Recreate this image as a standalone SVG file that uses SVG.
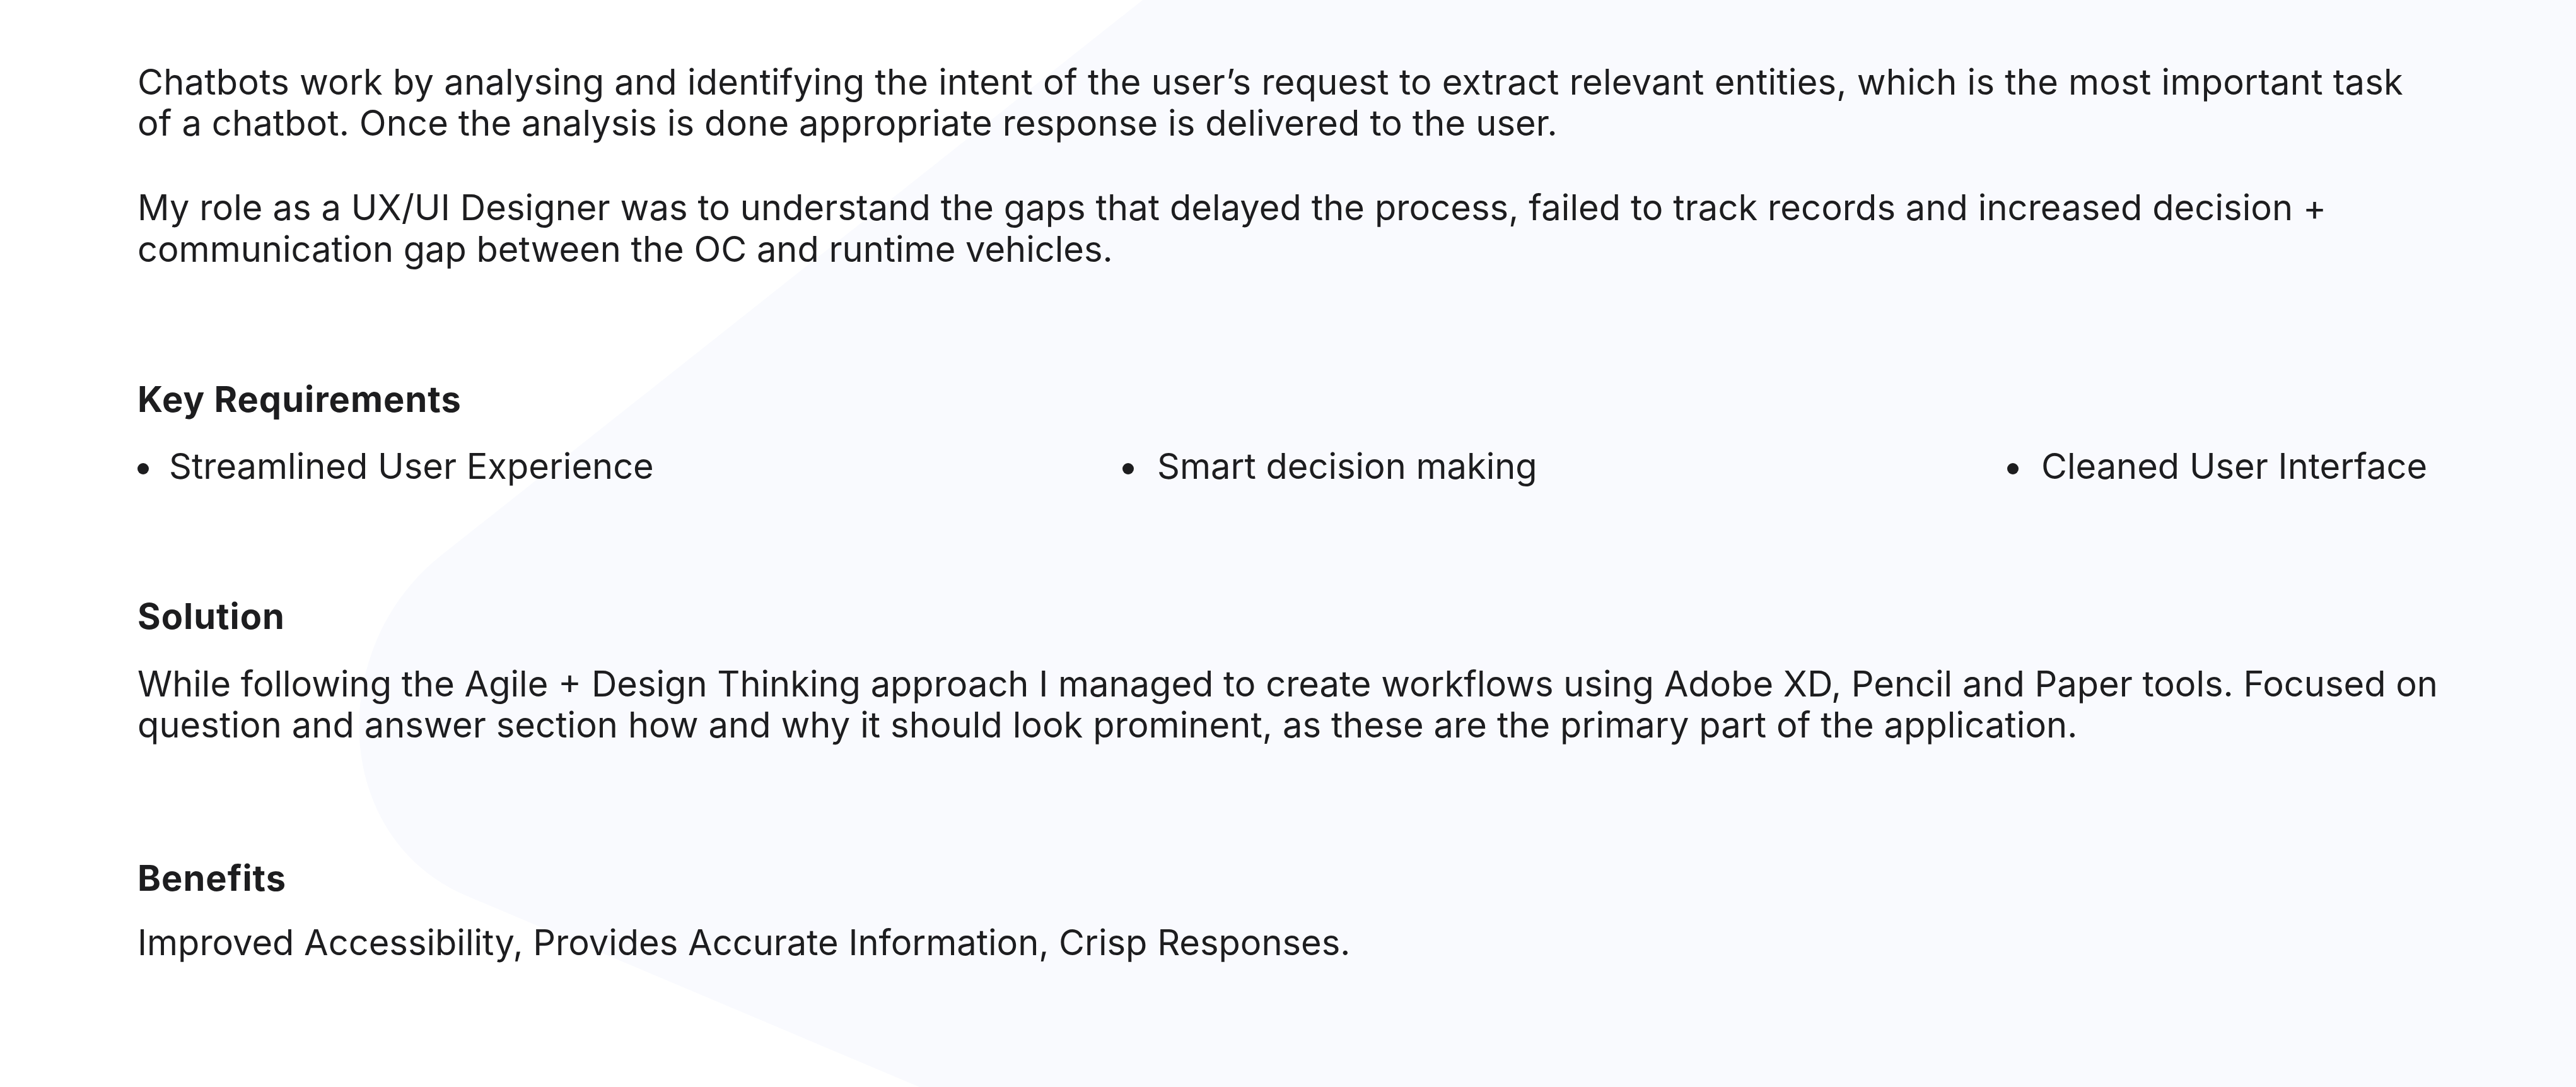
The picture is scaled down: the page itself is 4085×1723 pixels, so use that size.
<svg xmlns="http://www.w3.org/2000/svg" width="4085" height="1723" viewBox="0 0 4085 1723">
<style>
.t{font-family:Inter,"Noto Sans","Liberation Sans",sans-serif;font-size:56px;fill:#1d1d1f}
.h{font-family:Inter,"Noto Sans","Liberation Sans",sans-serif;font-size:56px;font-weight:700;letter-spacing:1px;fill:#1d1d1f}
</style>
<rect width="4085" height="1723" fill="#ffffff"/>
<path id="bg-shape" d="M1812 0 L4085 0 L4085 1723 L1458 1723 L740 1420 C525 1329 515 1026 700 880 Z" fill="#f9fafe"/>
<g id="intro">
<text class="t" x="218" y="150" letter-spacing="0.25">Chatbots work by analysing and identifying the intent of the user’s request to extract relevant entities, which is the most important task</text>
<text class="t" x="218" y="215" letter-spacing="0.12">of a chatbot. Once the analysis is done appropriate response is delivered to the user.</text>
</g>
<g id="role">
<text class="t" x="218" y="349" letter-spacing="0.08">My role as a UX/UI Designer was to understand the gaps that delayed the process, failed to track records and increased decision +</text>
<text class="t" x="218" y="415">communication gap between the OC and runtime vehicles.</text>
</g>
<g id="key-requirements">
<text class="h" x="218" y="653">Key Requirements</text>
<circle cx="227" cy="743" r="9" fill="#1d1d1f"/>
<text class="t" x="268" y="759">Streamlined User Experience</text>
<circle cx="1789" cy="743" r="9" fill="#1d1d1f"/>
<text class="t" x="1835" y="759">Smart decision making</text>
<circle cx="3192" cy="743" r="9" fill="#1d1d1f"/>
<text class="t" x="3237" y="759">Cleaned User Interface</text>
</g>
<g id="solution">
<text class="h" x="218" y="997">Solution</text>
<text class="t" x="218" y="1104">While following the Agile + Design Thinking approach I managed to create workflows using Adobe XD, Pencil and Paper tools. Focused on</text>
<text class="t" x="218" y="1169" letter-spacing="0.09">question and answer section how and why it should look prominent, as these are the primary part of the application.</text>
</g>
<g id="benefits">
<text class="h" x="218" y="1412">Benefits</text>
<text class="t" x="218" y="1514">Improved Accessibility, Provides Accurate Information, Crisp Responses.</text>
</g>
</svg>
